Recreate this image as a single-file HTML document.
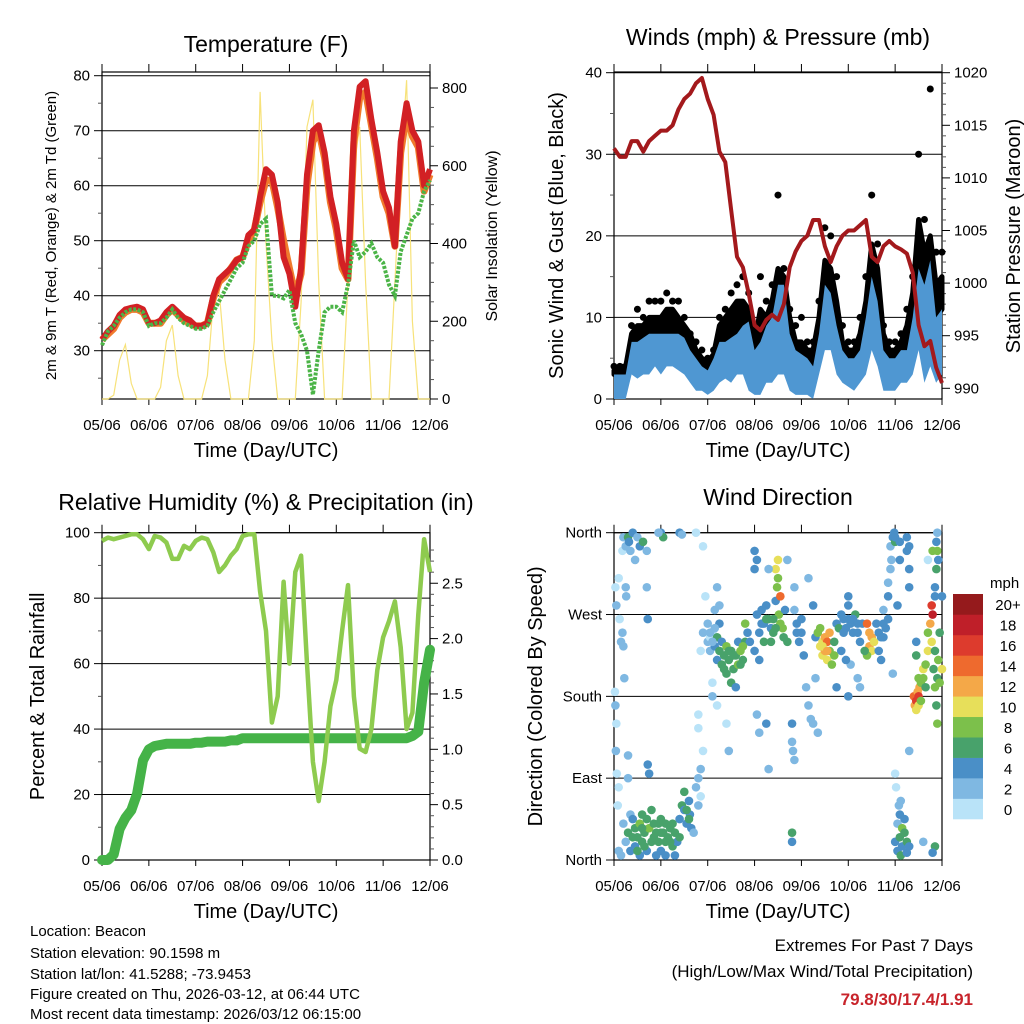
<!DOCTYPE html>
<html><head><meta charset="utf-8"><style>
body{margin:0;background:#fff;}
svg{display:block;font-family:"Liberation Sans",Arial,sans-serif;}
</style></head><body>
<svg id="c" width="1024" height="1024" viewBox="0 0 1024 1024">
<g id="p1"></g>
<g id="p2"></g>
<g id="p3"></g>
<g id="p4"></g>
<g font-size="15" fill="#000">
<text x="30" y="936">Location: Beacon</text>
<text x="30" y="958">Station elevation: 90.1598 m</text>
<text x="30" y="979">Station lat/lon: 41.5288; -73.9453</text>
<text x="30" y="999">Figure created on Thu, 2026-03-12, at 06:44 UTC</text>
<text x="30" y="1019">Most recent data timestamp: 2026/03/12 06:15:00</text>
</g>
<g text-anchor="end">
<text x="973" y="951" font-size="17">Extremes For Past 7 Days</text>
<text x="973" y="977" font-size="17">(High/Low/Max Wind/Total Precipitation)</text>
<text x="973" y="1005" font-size="17" font-weight="bold" fill="#c8242b">79.8/30/17.4/1.91</text>
</g>
</svg>
<script>
// ---- data (time step 0.125 day, 05/06..12/06) ----
const dayLabels=["05/06","06/06","07/06","08/06","09/06","10/06","11/06","12/06"];
const tempRed=[32,33.5,34.5,36.5,37.5,37.8,38,37.5,35,35,35.5,37,38,37,36,35.5,34.5,34.5,35,40,43,44,45,46.5,47,51,52,58,63,62,57,47,44,38,45,62,70,71,66,58,53,46,43,70,78,79,72,66,59,56,49,68,75,70,68,60,63];
const tempOrange=[32,33,34,36,37,37.5,37.5,37,35,35,35,36.5,37.5,36.5,35.5,35,34.5,34.5,35,39.5,42.5,43.5,45,46.5,47,50,52,57,61,61,56,50,45,40,44,60,68,70,65,57,52,45,43,68,76,77,71,65,58,55,49,66,73,69,67,59,62];
const dewGreen=[31,33.5,34.5,36,37,37.5,37.5,37,34.5,35,35,36,37.5,36,35,34.5,34,34,34.5,37,39,41,43,45,46,49,50,53,54,40,40,39.5,41,35,33,30,22,30,37,38,38,37,42,50,47,48,49.5,47,46,42,40,48,51,54,55,59,61];
const solar=[0,0,10,100,140,40,0,0,0,0,30,150,190,60,0,0,0,0,60,250,280,100,0,0,0,0,150,790,400,150,0,0,0,0,250,700,770,300,0,0,0,0,300,600,700,300,0,0,0,0,300,600,820,200,0,0,0];
const windHi=[3,3,3,7,7,7.5,8,8,8,8,8,8,7.5,6,5,4,3.5,5,7,7,7.5,8,9,9.5,6,7,9,10,14,14,8,6,5.5,5,4,8,14,13,9,6,5,5,6,10,15,12,6,5,5,6,6,10,16,14,17,10,11];
const windLo=[0,0,0,3,2.5,3,3,4,3,4,4,3.5,3,2,1,1,0.5,1,2,2.5,2,3,3,1,0.5,0.5,2,2,3,3,1,0.5,0.5,0.5,0,3,6,6,3,2,1.5,1,2,3,6,4,1,1,1,2,2,3,6,2,4,2,3];
const gustCore=[3.5,4,4,8,9,9,10,10,10,11,11,10,9,8,6,5,4.5,5.5,9,10,11,12,12,11,7,11,10,12,16,15,10,7,7,6,6,10,17,16,12,7,6,6,8,12,19,16,8,6,6,7,9,13,22,18,20,14,15];
const gust=[4,4,4,9,11,10,12,12,12,13,12,12,10,8,7,6,5,6,10,11,13,14,15,13,9,15,12,14,25,16,11,9,10,7,7,12,21,20,15,9,7,7,10,15,25,19,9,7,7,8,11,15,30,22,38,18,18];
const pressure=[1012.8,1012,1012,1013.5,1013.5,1012.5,1013.5,1014,1014.5,1014.5,1015,1016.5,1017.5,1018,1019,1019.5,1017.5,1016,1012.5,1011.5,1007,1002.5,1001.5,999,996,995.5,996.5,997,996.5,998,1001.5,1003,1004,1004.5,1006,1006,1003.5,1002,1003.5,1004.5,1005,1005,1005.5,1006,1002.5,1002,1003.5,1004,1003.5,1003.2,1002.8,1001,996,994,994.5,992,990.5];
const rh=[97.5,98.5,98,98.5,99,99.5,99.5,98,95,99,98.5,97,92,92,96,95,97.5,98.5,98,94,88,90,93,95,99,99.5,99.5,82,70,42,50,85,60,88,93,60,30,18,30,47,55,70,84,50,34,33,40,58,68,73,79,65,40,45,75,98,88];
const rain=[0,0,0.05,0.28,0.38,0.45,0.6,0.9,1.0,1.03,1.04,1.05,1.05,1.05,1.05,1.05,1.06,1.06,1.07,1.07,1.07,1.07,1.08,1.08,1.1,1.1,1.1,1.1,1.1,1.1,1.1,1.1,1.1,1.1,1.1,1.1,1.1,1.1,1.1,1.1,1.1,1.1,1.1,1.1,1.1,1.1,1.1,1.1,1.1,1.1,1.1,1.1,1.1,1.12,1.16,1.6,1.9];
const dirPts=[[0.02,185,1],[0.03,170,2],[0.05,150,1],[0.04,120,2],[0.06,95,1],[0.08,60,1],[0.03,300,1],[0.05,280,2],[0.1,310,1],[0.12,265,1],[0.15,240,2],[0.18,250,2],[0.2,235,3],[0.22,200,3],[0.25,300,2],[0.26,290,2],[0.18,340,1],[0.2,355,2],[0.25,345,2],[0.3,355,6],[0.32,350,4],[0.35,340,2],[0.4,360,4],[0.45,330,2],[0.5,355,3],[0.55,345,4],[0.62,350,7],[0.7,340,3],[0.7,300,3],[0.72,265,4],
[0.1,10,2],[0.15,5,2],[0.2,40,2],[0.25,20,3],[0.3,30,6],[0.35,10,4],[0.35,50,3],[0.4,45,4],[0.45,35,7],[0.45,15,4],[0.5,25,6],[0.55,40,8],[0.55,5,4],[0.6,20,6],[0.6,50,7],[0.65,30,6],[0.7,10,4],[0.7,45,6],[0.75,35,8],[0.8,20,6],[0.8,55,7],[0.85,40,6],[0.9,5,4],[0.9,30,7],[0.95,20,6],[1.0,45,6],[1.0,10,4],[1.05,30,6],[1.1,40,7],[1.1,5,4],[1.15,25,6],[1.2,35,6],[1.25,15,6],[1.3,30,6],[1.3,5,4],[1.35,20,5],[1.4,45,4],[1.45,60,6],[1.5,75,6],[1.5,55,4],[1.55,40,4],[1.6,65,4],[1.62,50,4],[1.65,35,4],[1.7,30,3],[1.75,80,2],[1.8,90,2],[1.8,60,3],[1.85,100,2],[1.85,70,1],[0.75,95,4],[0.72,105,4],[0.3,115,2],[0.3,90,2],[0.1,80,1],
[0.4,25,6],[0.5,10,6],[0.65,15,7],[0.85,25,7],[1.0,30,6],[1.2,20,7],[1.25,40,6],[1.4,25,6],[1.55,55,6],[1.6,45,6],[0.6,35,6],[0.95,40,7],[1.1,20,6],
[1.0,360,4],[1.05,355,6],[0.95,360,3],[1.4,360,4],[1.45,358,3],[1.75,360,1],[1.9,345,1],
[1.95,290,1],[1.9,250,2],[1.85,230,1],[1.8,160,1],[1.8,145,1],[1.9,120,1],[2.0,260,2],[2.0,240,2],[2.05,245,1],[2.05,230,2],[2.1,250,1],[2.1,195,1],[2.15,275,3],[2.15,235,4],[2.2,245,6],[2.2,220,4],[2.25,260,4],[2.25,230,7],[2.3,215,6],[2.3,240,5],[2.35,225,6],[2.4,235,8],[2.4,205,6],[2.45,220,7],[2.5,230,7],[2.5,195,6],[2.55,210,6],[2.6,225,7],[2.65,215,8],[2.65,240,5],[2.7,230,8],[2.75,220,7],[2.8,240,6],[2.8,260,8],[2.85,250,4],[2.9,240,4],[2.2,300,2],[2.25,280,3],[2.1,180,2],[2.2,170,1],[2.4,150,1],[2.45,120,2],[2.6,190,4],
[2.05,250,2],[2.1,240,2],[2.15,255,2],[2.35,210,6],[2.45,230,6],[2.55,225,7],[2.7,215,7],[2.75,235,8],
[3.0,320,4],[3.0,230,4],[3.05,270,4],[3.05,160,2],[3.1,250,4],[3.1,140,3],[3.15,275,4],[3.2,240,6],[3.2,260,4],[3.25,280,4],[3.25,150,4],[3.3,265,6],[3.35,240,6],[3.35,255,4],[3.4,250,6],[3.45,285,5],[3.45,320,10],[3.48,300,8],[3.5,310,8],[3.5,330,10],[3.52,270,8],[3.55,260,8],[3.55,290,14],[3.6,255,8],[3.62,245,6],[3.65,275,4],[3.7,240,6],[3.05,330,4],[3.0,340,4],[3.3,320,3],[3.3,100,2],[3.1,220,4],[3.7,330,2],[3.8,150,4],[3.8,130,3],[3.82,120,3],[3.85,110,2],[3.8,30,6],[3.8,20,4],[3.85,300,2],[3.85,275,3],[3.9,250,4],[3.95,240,4],[4.0,265,4],[4.05,225,4],[4.1,190,2],[4.15,170,2],[4.15,310,2],[4.2,155,3],[4.25,150,3],[4.25,280,4],[4.3,245,4],[4.35,140,3],[4.3,200,2],
[3.15,260,4],[3.25,265,6],[3.4,265,6],[3.45,255,6],[3.9,260,4],[4.0,250,4],
[4.35,250,8],[4.4,235,10],[4.4,255,8],[4.45,240,10],[4.45,225,10],[4.5,245,12],[4.5,230,12],[4.55,240,14],[4.55,220,10],[4.6,250,12],[4.6,230,8],[4.65,215,8],[4.7,240,6],[4.7,225,8],[4.75,260,4],[4.8,255,6],[4.85,270,4],[4.9,265,4],[4.95,255,4],[5.0,280,4],[5.0,290,4],[5.05,260,4],[5.05,215,2],[5.1,250,4],[5.15,270,6],[5.2,250,4],[5.2,200,2],[5.25,240,4],[5.25,190,2],[5.3,260,4],[4.75,190,4],[4.85,230,4],[5.0,180,4],[4.95,220,4],
[4.9,250,4],[5.0,265,4],[5.1,265,4],[5.2,260,4],[4.45,235,10],[4.55,230,12],
[5.4,260,14],[5.45,250,12],[5.45,235,12],[5.5,245,12],[5.5,230,10],[5.55,240,10],[5.4,225,8],[5.35,230,6],[5.6,260,4],[5.65,230,4],[5.7,245,4],[5.7,220,4],[5.75,260,4],[5.75,275,2],[5.85,290,4],[5.85,305,2],[5.9,320,2],[5.92,330,2],[5.9,345,2],[5.95,355,4],[5.98,360,4],[6.0,350,6],[6.0,355,4],[6.0,95,1],[6.02,80,1],[5.95,205,2],[6.1,350,4],[6.1,330,4],[6.05,280,4],
[5.65,250,4],[5.75,245,4],[5.8,255,4],[5.85,265,4],
[6.0,20,4],[6.05,40,2],[6.05,10,4],[6.1,50,4],[6.1,25,6],[6.12,5,6],[6.15,35,8],[6.15,15,4],[6.2,30,6],[6.2,45,4],[6.25,20,6],[6.25,8,4],[6.3,15,4],[6.08,60,2],[6.12,65,2],
[6.25,355,4],[6.25,340,4],[6.3,345,4],[6.3,320,4],[6.3,300,4],[6.3,120,3],
[6.4,180,14],[6.42,170,12],[6.45,175,16],[6.48,185,12],[6.5,170,10],[6.5,180,16],[6.52,190,12],[6.45,165,10],[6.55,175,8],[6.55,195,8],[6.6,200,8],[6.6,210,10],[6.65,215,8],[6.65,190,6],[6.7,230,10],[6.7,250,8],[6.75,260,12],[6.78,280,16],[6.8,270,18],[6.78,240,10],[6.82,210,6],[6.85,230,6],[6.85,190,8],[6.88,170,6],[6.9,150,8],[6.9,200,6],[6.92,220,8],[6.95,250,6],[6.95,195,8],[7.0,210,10],[6.8,340,8],[6.88,320,6],[6.9,340,8],[6.9,360,2],[6.92,330,4],[6.85,290,4],[6.85,300,4],[6.7,330,1],[6.6,20,2],[6.85,15,7],[6.8,8,4],[6.88,350,4],[7.0,290,4],[6.45,240,4],[6.45,225,6],[6.5,200,8]];
const speedLabels=["0","2","4","6","8","10","12","14","16","18","20+"];
const speedColors=["#b9e3f8","#7fb8e2","#4a8fc7","#48a26b","#7cc04b","#e7df5a","#f4a848","#ee6a2e","#dd3b2d","#bf1f29","#951a1c"];

const NS="http://www.w3.org/2000/svg";
function mk(parent,tag,attrs){const e=document.createElementNS(NS,tag);for(const k in attrs)e.setAttribute(k,attrs[k]);parent.appendChild(e);return e;}
function lin(d0,d1,r0,r1){return v=>r0+(v-d0)*(r1-r0)/(d1-d0);}
const STEP=0.125;

function frame(g,x0,x1,y0,y1,titleTxt,titleY,ytitle,ytx){
  const X=lin(0,7,x0,x1);
  const r=mk(g,'rect',{x:x0,y:y0,width:x1-x0,height:y1-y0,fill:'none',stroke:'#000','stroke-width':1.2});
  
  
  dayLabels.forEach((lb,i)=>{
    const x=X(i);
    const tk=mk(g,'line',{x1:x,x2:x,y1:y1,y2:y1+6,stroke:'#000','stroke-width':1});
    
    
    const tt=mk(g,'line',{x1:x,x2:x,y1:y0-8,y2:y0,stroke:'#000','stroke-width':1});
    
    
    const t=mk(g,'text',{x:x,y:y1+31,'font-size':15,'text-anchor':'middle'});t.textContent=lb;
    
    
  });
  const xt=mk(g,'text',{x:(x0+x1)/2,y:y1+58,'font-size':20,'text-anchor':'middle'});xt.textContent='Time (Day/UTC)';
  
  
  const ti=mk(g,'text',{x:(x0+x1)/2,y:titleY,'font-size':23,'text-anchor':'middle'});ti.textContent=titleTxt;
  
  
  const yt=mk(g,'text',{x:0,y:0,'font-size':ytitle[1],'text-anchor':'middle',transform:`translate(${ytx},${(y0+y1)/2}) rotate(-90)`});yt.textContent=ytitle[0];
  
  
  return X;
}
function yAxis(g,ticks,labels,Y,x0,x1,side,grid,minor){
  ticks.forEach((v,i)=>{
    const y=Y(v);
    if(grid){const gl=mk(g,'line',{x1:x0,x2:x1,y1:y,y2:y,stroke:'#000','stroke-width':1});
      
      }
    const xa=side==='l'?x0:x1, d=side==='l'?-8:8;
    const tk=mk(g,'line',{x1:xa,x2:xa+d,y1:y,y2:y,stroke:'#000'});
    
    
    const t=mk(g,'text',{x:xa+(side==='l'?-12:12),y:y+5,'font-size':15,'text-anchor':side==='l'?'end':'start'});t.textContent=labels[i];
    
    
  });
  if(minor){minor.forEach(v=>{const y=Y(v);const xa=side==='l'?x0:x1;
    const m=mk(g,'line',{x1:xa,x2:xa+(side==='l'?-4:4),y1:y,y2:y,stroke:'#555'});
    
    });}
}
function pathOf(arr,X,Y){return arr.map((v,i)=>(i?'L':'M')+X(i*STEP).toFixed(1)+','+Y(v).toFixed(1)).join(' ');}

// ---- Panel 1: Temperature ----
(function(){
  const g=document.getElementById('p1');
  const x0=102,x1=430,y0=72,y1=399;
  const X=frame(g,x0,x1,y0,y1,'Temperature (F)',52,['2m & 9m T (Red, Orange) & 2m Td (Green)',15],56);
  const Y=lin(80,30,75.7,350.7);
  const YS=lin(0,800,399,88);
  yAxis(g,[30,40,50,60,70,80],['30','40','50','60','70','80'],Y,x0,x1,'l',true,[25,35,45,55,65,75]);
  yAxis(g,[0,200,400,600,800],['0','200','400','600','800'],YS,x0,x1,'r',false,[50,100,150,250,300,350,450,500,550,650,700,750]);
  const rt=mk(g,'text',{x:0,y:0,'font-size':16,'text-anchor':'middle',transform:`translate(497,236) rotate(-90)`});rt.textContent='Solar Insolation (Yellow)';
  
  
  const sp=mk(g,'path',{d:pathOf(solar,X,YS),fill:'none',stroke:'#f7e27a','stroke-width':1.2});
  
  
  const op=mk(g,'path',{d:pathOf(tempOrange,X,Y),fill:'none',stroke:'#f07a2c','stroke-width':7,'stroke-linejoin':'round'});
  
  
  const rp=mk(g,'path',{d:pathOf(tempRed,X,Y),fill:'none',stroke:'#d22024','stroke-width':6,'stroke-linejoin':'round'});
  
  
  const gp=mk(g,'path',{d:pathOf(dewGreen,X,Y),fill:'none',stroke:'#4bb447','stroke-width':4,'stroke-dasharray':'3 1.5'});
  
  
})();

// ---- Panel 2: Winds & Pressure ----
(function(){
  const g=document.getElementById('p2');
  const x0=614,x1=942,y0=72,y1=399;
  const X=frame(g,x0,x1,y0,y1,'Winds (mph) & Pressure (mb)',45,['Sonic Wind & Gust (Blue, Black)',20],563);
  const Y=lin(0,40,399,72.7);
  const YP=lin(990,1020,388.3,72.7);
  yAxis(g,[0,10,20,30,40],['0','10','20','30','40'],Y,x0,x1,'l',true,[5,15,25,35]);
  yAxis(g,[990,995,1000,1005,1010,1015,1020],['990','995','1000','1005','1010','1015','1020'],YP,x0,x1,'r',false,[991,992,993,994,996,997,998,999,1001,1002,1003,1004,1006,1007,1008,1009,1011,1012,1013,1014,1016,1017,1018,1019]);
  const rt=mk(g,'text',{x:0,y:0,'font-size':20,'text-anchor':'middle',transform:`translate(1020,236) rotate(-90)`});rt.textContent='Station Pressure (Maroon)';
  
  
  let gb='';gustCore.forEach((v,i)=>{gb+=(i?'L':'M')+X(i*STEP).toFixed(1)+','+Y(v).toFixed(1);});
  for(let i=windHi.length-1;i>=0;i--)gb+='L'+X(i*STEP).toFixed(1)+','+Y(windHi[i]).toFixed(1);
  const bb=mk(g,'path',{d:gb+'Z',fill:'#000',stroke:'#000','stroke-width':5,'stroke-linejoin':'round'});
  
  
  gust.forEach((v,i)=>{const c=mk(g,'circle',{cx:X(i*STEP),cy:Y(v),r:3.5,fill:'#000'});
    
    });
  let d='';windHi.forEach((v,i)=>{d+=(i?'L':'M')+X(i*STEP).toFixed(1)+','+Y(v).toFixed(1);});
  for(let i=windLo.length-1;i>=0;i--)d+='L'+X(i*STEP).toFixed(1)+','+Y(windLo[i]).toFixed(1);
  const wb=mk(g,'path',{d:d+'Z',fill:'#4f97d2'});
  
  
  const pp=mk(g,'path',{d:pathOf(pressure,X,YP),fill:'none',stroke:'#a3191c','stroke-width':4,'stroke-linejoin':'round'});
  
  
})();

// ---- Panel 3: RH & precip ----
(function(){
  const g=document.getElementById('p3');
  const x0=102,x1=430,y0=532.7,y1=860;
  const X=frame(g,x0,x1,y0,y1,'Relative Humidity (%) & Precipitation (in)',510,['Percent & Total Rainfall',20],44);
  const Y=lin(0,100,860,532.7);
  const YR=lin(0,1,860,749.3);
  yAxis(g,[0,20,40,60,80,100],['0','20','40','60','80','100'],Y,x0,x1,'l',true,[10,30,50,70,90]);
  yAxis(g,[0,0.5,1,1.5,2,2.5],['0.0','0.5','1.0','1.5','2.0','2.5'],YR,x0,x1,'r',false,[0.1,0.2,0.3,0.4,0.6,0.7,0.8,0.9,1.1,1.2,1.3,1.4,1.6,1.7,1.8,1.9,2.1,2.2,2.3,2.4,2.6,2.7,2.8]);
  const rp=mk(g,'path',{d:pathOf(rain,X,YR),fill:'none',stroke:'#45b348','stroke-width':10,'stroke-linejoin':'round','stroke-linecap':'round'});
  
  
  const hp=mk(g,'path',{d:pathOf(rh,X,Y),fill:'none',stroke:'#8ecb4f','stroke-width':4.5,'stroke-linejoin':'round'});
  
  
})();

// ---- Panel 4: Wind direction ----
(function(){
  const g=document.getElementById('p4');
  const x0=614,x1=942,y0=532.7,y1=860;
  const X=frame(g,x0,x1,y0,y1,'Wind Direction',505,['Direction (Colored By Speed)',20],542);
  const Y=lin(0,360,860,532.7);
  yAxis(g,[0,90,180,270,360],['North','East','South','West','North'],Y,x0,x1,'l',true,null);
  dirPts.forEach(p=>{
    const idx=Math.min(10,Math.floor(p[2]/2));
    const c=mk(g,'circle',{cx:X(p[0]),cy:Y(p[1]),r:4.3,fill:speedColors[idx]});
    
    
  });
  const lg=mk(g,'g',{});
  
  
  const mt=mk(lg,'text',{x:990,y:588,'font-size':15});mt.textContent='mph';
  
  
  const bh=(819-594)/11;
  speedLabels.forEach((lb,i)=>{
    const y=819-(i+1)*bh;
    const r=mk(lg,'rect',{x:953,y:y,width:30,height:bh+0.3,fill:speedColors[i]});
    
    
    const t=mk(lg,'text',{x:1008,y:y+bh/2+6,'font-size':15,'text-anchor':'middle'});t.textContent=lb;
    
    
  });
})();
</script>
</body></html>
